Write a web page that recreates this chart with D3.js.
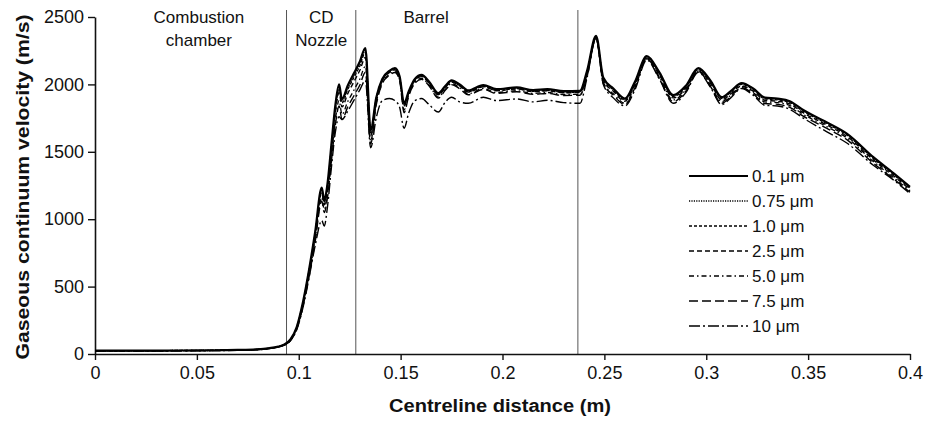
<!DOCTYPE html>
<html><head><meta charset="utf-8">
<script src="https://cdn.jsdelivr.net/npm/d3@7"></script>
<style>
html,body{margin:0;padding:0;background:#fff;}
text{font-family:"Liberation Sans",Arial,Helvetica,sans-serif;fill:#111;}
</style></head>
<body><svg id="chart" width="928" height="424"></svg>
<script>
// Shared x grid (centreline distance, m)
const xValues = [0,0.02,0.04,0.06,0.07,0.08,0.085,0.09,0.093,0.096,0.099,0.102,0.105,0.108,0.1113,0.1125,0.114,0.116,0.118,0.1198,0.1212,0.124,0.127,0.130,0.1327,0.1353,0.138,0.141,0.1445,0.1472,0.1495,0.1517,0.154,0.157,0.1603,0.164,0.1685,0.172,0.175,0.179,0.1832,0.1906,0.197,0.207,0.215,0.222,0.23,0.238,0.2415,0.2459,0.2495,0.2544,0.2601,0.265,0.2708,0.277,0.2838,0.29,0.2961,0.302,0.3076,0.312,0.3174,0.323,0.3288,0.335,0.341,0.3476,0.359,0.369,0.382,0.392,0.4];

const v01 = [25,25,26,28,30,35,42,55,70,110,200,380,620,900,1235,1140,1250,1550,1850,2000,1890,1990,2080,2170,2270,1660,1900,2040,2100,2120,2060,1860,1950,2040,2070,2020,1935,1990,2030,2000,1955,1995,1965,1978,1958,1965,1950,1952,2100,2360,2050,1970,1895,2020,2210,2090,1920,1990,2120,2030,1905,1950,2010,1970,1902,1895,1875,1810,1720,1635,1460,1340,1240];
const v075 = [25,25,26,28,30,35,42,55,70,108,198,376,614,891,1222,1129,1238,1535,1832,1980,1871,1970,2059,2148,2250,1650,1895,2035,2095,2115,2055,1850,1945,2035,2065,2015,1930,1985,2025,1995,1950,1990,1960,1973,1953,1960,1945,1947,2095,2355,2045,1965,1890,2015,2205,2085,1915,1985,2115,2025,1900,1945,2005,1965,1897,1890,1870,1805,1715,1630,1455,1335,1235];
const v10 = [25,25,26,28,30,35,42,55,70,108,197,374,611,887,1216,1123,1231,1527,1822,1970,1862,1960,2049,2137,2236,1640,1890,2030,2090,2110,2050,1845,1940,2030,2060,2010,1925,1980,2020,1990,1945,1985,1955,1968,1948,1955,1940,1942,2090,2350,2040,1960,1885,2010,2200,2080,1910,1980,2110,2020,1895,1940,2000,1960,1892,1885,1865,1800,1710,1625,1450,1330,1230];
const v25 = [24,24,25,27,29,34,41,54,69,107,194,369,601,873,1198,1106,1213,1504,1795,1940,1833,1930,2018,2105,2200,1620,1880,2028,2088,2108,2048,1840,1938,2028,2058,2008,1922,1978,2018,1988,1943,1983,1953,1966,1946,1953,1938,1940,2080,2345,2030,1950,1875,2000,2190,2070,1900,1970,2100,2010,1885,1930,1990,1950,1882,1875,1855,1790,1700,1615,1440,1320,1220];
const v50 = [24,24,25,27,29,34,40,53,68,103,188,357,583,846,1161,1072,1175,1457,1739,1880,1777,1871,1955,2040,2134,1580,1860,2012,2075,2095,2035,1810,1922,2015,2045,1995,1905,1965,2005,1975,1930,1970,1940,1953,1933,1940,1925,1927,2070,2350,2015,1930,1860,1985,2195,2055,1885,1960,2100,1995,1872,1920,1985,1940,1870,1865,1843,1778,1688,1603,1428,1308,1210];
const v75 = [23,23,24,26,28,33,40,53,67,101,184,350,570,828,1136,1049,1150,1426,1702,1840,1739,1831,1914,1996,2090,1560,1845,2005,2068,2088,2028,1790,1915,2008,2038,1988,1898,1958,1998,1968,1923,1963,1933,1946,1926,1933,1918,1920,2060,2345,2005,1920,1850,1975,2190,2045,1872,1950,2095,1985,1860,1910,1975,1930,1858,1852,1830,1765,1675,1590,1415,1298,1200];
const v100 = [22,22,23,25,27,32,40,52,66,100,180,340,560,800,990,950,1080,1380,1650,1760,1740,1800,1880,1960,2030,1530,1750,1880,1895,1880,1830,1675,1790,1880,1895,1850,1795,1870,1905,1870,1860,1905,1880,1892,1870,1882,1865,1860,2050,2340,2000,1900,1840,1960,2180,2040,1860,1940,2090,1980,1850,1900,1970,1920,1845,1840,1815,1750,1650,1565,1400,1290,1190];

const seriesNames = ["0.1 \u03bcm","0.75 \u03bcm","1.0 \u03bcm","2.5 \u03bcm","5.0 \u03bcm","7.5 \u03bcm","10 \u03bcm"];
const seriesValues = [v01,v075,v10,v25,v50,v75,v100];
const seriesDash = ["none","1.2,1.2","3,2","5,3","5,3,1.5,3","9,4","11,3,2,3"];
const seriesWidth = [2.2,1.3,1.3,1.4,1.3,1.4,1.4];

const xTicks = [0,0.05,0.1,0.15,0.2,0.25,0.3,0.35,0.4];
const xTickLabels = ["0","0.05","0.1","0.15","0.2","0.25","0.3","0.35","0.4"];
const yTicks = [0,500,1000,1500,2000,2500];
const regionLines = [0.094,0.128,0.237];
const regionLabels = [
  {lines:["Combustion","chamber"], x:0.051},
  {lines:["CD","Nozzle"], x:0.111},
  {lines:["Barrel"], x:0.1625}
];

const svg = d3.select("#chart");
const x = d3.scaleLinear().domain([0,0.4]).range([95,910]);
const y = d3.scaleLinear().domain([0,2500]).range([354,17]);

// region separators
svg.append("g").selectAll("line").data(regionLines).join("line")
  .attr("x1",d=>x(d)).attr("x2",d=>x(d)).attr("y1",10).attr("y2",y(0))
  .attr("stroke","#555").attr("stroke-width",1);

// region labels
regionLabels.forEach(r=>{
  r.lines.forEach((t,i)=>{
    svg.append("text").attr("x",x(r.x)).attr("y",23+i*22.5)
      .attr("text-anchor","middle").attr("font-size",17).text(t);
  });
});

// axes
const xAxis = svg.append("g").attr("transform",`translate(0,${y(0)})`)
  .call(d3.axisBottom(x).tickValues(xTicks).tickFormat((d,i)=>xTickLabels[i]).tickSize(6).tickSizeOuter(0).tickPadding(6));
const yAxis = svg.append("g").attr("transform",`translate(${x(0)},0)`)
  .call(d3.axisLeft(y).tickValues(yTicks).tickFormat(d3.format("d")).tickSize(7).tickSizeOuter(0).tickPadding(4));
[xAxis,yAxis].forEach(g=>{
  g.select(".domain").attr("stroke","#111").attr("stroke-width",1.6);
  g.selectAll(".tick line").attr("stroke","#111").attr("stroke-width",1.4);
  g.selectAll(".tick text").attr("font-size",18).attr("font-family","Liberation Sans, Arial, sans-serif").attr("fill","#111");
});

// lines
const line = d3.line().x((d,i)=>x(xValues[i])).y(d=>y(d)).curve(d3.curveMonotoneX);
const order = [6,5,4,3,2,1,0];
svg.append("g").selectAll("path").data(order).join("path")
  .attr("d",k=>line(seriesValues[k]))
  .attr("fill","none").attr("stroke","#000")
  .attr("stroke-width",k=>seriesWidth[k])
  .attr("stroke-dasharray",k=>seriesDash[k]==="none"?null:seriesDash[k])
  .attr("stroke-linejoin","round");

// legend
const leg = svg.append("g");
seriesNames.forEach((n,i)=>{
  const yy = 176+i*25;
  leg.append("line").attr("x1",689).attr("x2",748).attr("y1",yy).attr("y2",yy)
    .attr("stroke","#000").attr("stroke-width",seriesWidth[i])
    .attr("stroke-dasharray",seriesDash[i]==="none"?null:seriesDash[i]);
  leg.append("text").attr("x",752).attr("y",yy+6).attr("font-size",17).text(n);
});

// axis titles
svg.append("text").attr("x",500).attr("y",412).attr("text-anchor","middle")
  .attr("font-size",18).attr("font-weight","bold")
  .attr("textLength",222).attr("lengthAdjust","spacingAndGlyphs")
  .text("Centreline distance (m)");
svg.append("text").attr("transform","translate(29,187) rotate(-90)")
  .attr("text-anchor","middle").attr("font-size",18).attr("font-weight","bold")
  .attr("textLength",345).attr("lengthAdjust","spacingAndGlyphs")
  .text("Gaseous continuum velocity (m/s)");
</script></body></html>
